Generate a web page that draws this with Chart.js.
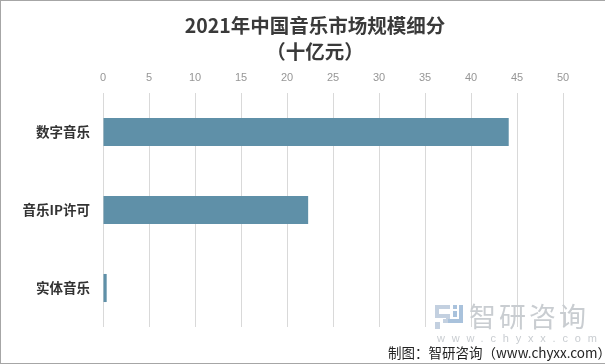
<!DOCTYPE html>
<html>
<head>
<meta charset="utf-8">
<script src="https://cdn.jsdelivr.net/npm/chart.js@4"></script>
<style>
  html, body { margin: 0; padding: 0; background: #fff; }
  #wrap { position: relative; width: 605px; height: 364px; overflow: hidden; box-sizing: border-box; }
  #frame { position: absolute; left: 0; top: 0; width: 605px; height: 364px; box-sizing: border-box;
    border: 1px solid #a6a6a6; border-right: 0; pointer-events: none; }
  canvas { position: absolute; left: 0; top: 0; }
  #title { position: absolute; left: 115px; width: 400px; top: 12px; text-align: center; color: #3a3a3a;
    font: bold 19.5px/26px "Noto Sans CJK SC", sans-serif; white-space: nowrap; }
  .wm { position: absolute; color: #c9cdd1; font-family: "Noto Sans CJK SC", sans-serif; white-space: nowrap; }
  #wmName { left: 469px; top: 297px; font-size: 27px; line-height: 38px; letter-spacing: 3px; }
  #wmUrl { left: 437px; top: 331px; font-size: 11px; line-height: 14px; letter-spacing: 6.8px; font-family: "Liberation Sans", sans-serif; }
  #logo { position: absolute; left: 434px; top: 304px; }
  #source { position: absolute; left: 388px; top: 343px; font: 13.5px/18px "Noto Sans CJK SC", sans-serif; color: #222; white-space: nowrap; }
</style>
</head>
<body>
<div id="wrap">
  <canvas id="c" width="605" height="364"></canvas>
  <div id="title"></div>
  <svg id="logo" width="30" height="26" viewBox="0 0 30 26">
    <path d="M1 1h15v4H5v5h11v9H9v-4h3v-1H1z" fill="#c3d0e0"/>
    <path d="M1 18h5v7H1z" fill="#c3d0e0"/>
    <path d="M19 1h4v4h-4zM25 1h4v18H14v-4h11z" fill="#a9c2dc"/>
    <path d="M19 7h4v6h-4z" fill="#a9c2dc"/>
  </svg>
  <div class="wm" id="wmName">智研咨询</div>
  <div class="wm" id="wmUrl">www.chyxx.com</div>
  <div id="source">制图：智研咨询（www.chyxx.com）</div>
  <div id="frame"></div>
</div>
<script>
const CJK = '"Noto Sans CJK SC", sans-serif';

const categories = ['数字音乐', '音乐IP许可', '实体音乐'];
const values = [44.1, 22.3, 0.4];
const titleLines = ['2021年中国音乐市场规模细分', '（十亿元）'];
const AXIS_MAX = 50;
const AXIS_STEP = 5;

// title sits off-centre from the canvas, so it lives in the page rather than the title plugin
document.getElementById('title').innerHTML = titleLines.join('<br>');

new Chart(document.getElementById('c'), {
  type: 'bar',
  data: {
    labels: categories,
    datasets: [{
      data: values,
      backgroundColor: '#5f90a8',
      borderWidth: 0,
      barPercentage: 0.36,
      categoryPercentage: 1,
    }],
  },
  options: {
    indexAxis: 'y',
    animation: false,
    responsive: false,
    layout: { padding: { left: 0, right: 42, top: 64, bottom: 37 } },
    plugins: {
      legend: { display: false },
      tooltip: { enabled: false },
    },
    scales: {
      x: {
        position: 'top',
        min: 0, max: AXIS_MAX,
        ticks: { stepSize: AXIS_STEP, color: '#969696', font: { size: 11, family: '"Liberation Sans", sans-serif' }, padding: 8, maxRotation: 0 },
        grid: { color: '#d9d9d9', drawTicks: false },
        border: { display: false },
        afterFit(scale) { scale.height = 29; },
      },
      y: {
        ticks: { color: '#333333', font: { size: 13.5, family: CJK, weight: 'bold' }, padding: 5 },
        grid: { display: false },
        border: { display: false },
        afterFit(scale) { scale.width = 103; },
      },
    },
  },
});
</script>
</body>
</html>
